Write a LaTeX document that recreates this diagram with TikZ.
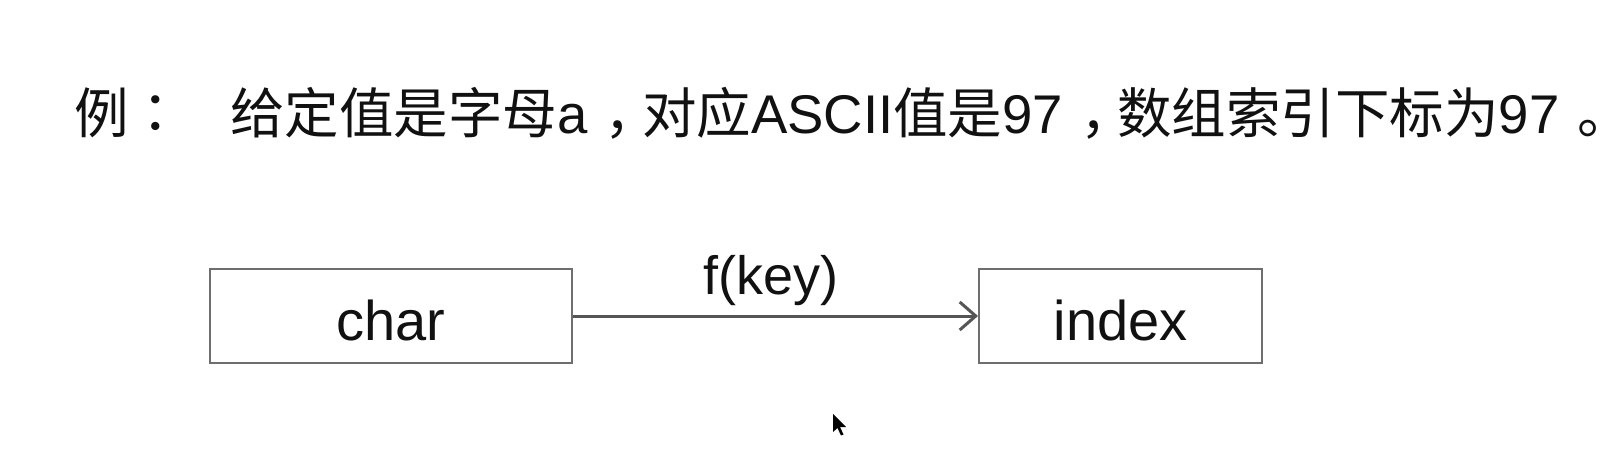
\documentclass[tikz,border=0pt]{standalone}
\usepackage{fontspec}
\setmainfont{Liberation Sans}
\newfontfamily\cjk{Noto Sans CJK SC}
\newfontfamily\cjkp{Noto Sans CJK TC}
\newcommand\fwpunct[1]{\hspace{0.32em}{\cjk #1}\hspace{-0.32em}}
\newcommand\fwend[1]{\hspace{0.32em}\makebox[0.4em][l]{\cjk #1}}
\usetikzlibrary{arrows.meta}
\definecolor{boxgray}{HTML}{6E6E6E}
\definecolor{arrowgray}{HTML}{555555}
\definecolor{textblack}{HTML}{111111}
\tikzset{
  titletext/.style={anchor=base west, inner sep=0pt, text=textblack, font=\fontsize{54.5}{60}\selectfont},
  box/.style={draw=boxgray, line width=2pt, minimum height=94pt, inner sep=0pt,
    text=textblack, font=\fontsize{56}{60}\selectfont, text height=50pt, text depth=2pt},
  arrowline/.style={draw=arrowgray, line width=3pt, -{Straight Barb[length=16pt,width=28pt]}},
  edgelabel/.style={anchor=base, inner sep=0pt, text=textblack, font=\fontsize{54}{60}\selectfont}
}
\begin{document}
\begin{tikzpicture}[x=1pt,y=-1pt]
\useasboundingbox[fill=white] (0,0) rectangle (1622,458);
\node[titletext] (ex) at (74,133) {{\cjk 例}{\cjkp ：}};
\node[titletext] (title) at (230,133) {{\cjk 给定值是字母}a\fwpunct{，}{\cjk 对应}ASCII{\cjk 值是}97\fwpunct{，}{\cjk 数组索引下标为}97\fwend{。}};
\node[box, minimum width=362pt] (char) at (391,316) {char};
\node[box, minimum width=283pt] (index) at (1120.5,316) {index};
\draw[arrowline] (char) -- (index);
\node[edgelabel] (fk) at (771,294) {f(key)};
\fill[black] (833,414) -- (833,432) -- (837.5,428) -- (841,435.5) -- (843.5,434.5) -- (840,427) -- (846,427) -- cycle;
\end{tikzpicture}
\end{document}
